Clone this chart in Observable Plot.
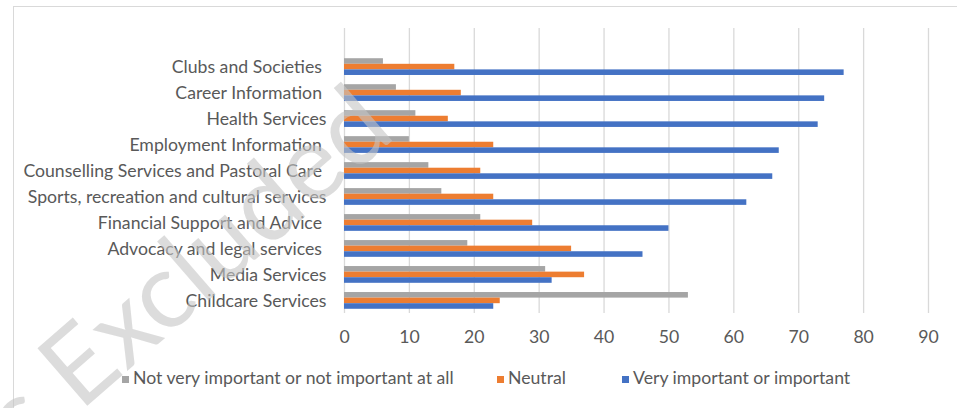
<!DOCTYPE html>
<html>
<head>
<meta charset="utf-8">
<script src="https://cdn.jsdelivr.net/npm/d3@7"></script>
<script src="https://cdn.jsdelivr.net/npm/@observablehq/plot@0.6"></script>
<style>
  html, body { margin: 0; padding: 0; background: #fff; overflow: hidden; }
  #wrap { position: relative; width: 957px; height: 408px; overflow: hidden; font-family: Lato, "Liberation Sans", sans-serif; }
  #frame { position: absolute; left: 13px; top: 6px; width: 1000px; height: 500px; border: 1.5px solid #d9d9d9; box-sizing: border-box; }
  #chart { position: absolute; left: 0; top: 0; }
  #chart svg text { white-space: pre; }
  #legend { position: absolute; left: 0; top: 369px; width: 957px; height: 20px; color: #595959; }
  .item { position: absolute; top: 0; white-space: nowrap; line-height: 18px; }
  .sw { display: inline-block; width: 7px; height: 7px; margin-right: 4px; vertical-align: 1px; }
  #wm { position: absolute; left: 0; top: 0; pointer-events: none; }
  #wm text { white-space: pre; font-family: Lato, "Liberation Sans", sans-serif; fill: #c4c4c4; fill-opacity: 0.6; }
</style>
</head>
<body>
<div id="wrap">
  <div id="frame"></div>
  <div id="chart"></div>
  <div id="legend"></div>
  <svg id="wm" width="957" height="408"></svg>
</div>
<script>
const categories = [
  "Clubs and Societies ",
  "Career Information ",
  "Health Services",
  "Employment Information ",
  "Counselling Services and Pastoral Care ",
  "Sports, recreation and cultural services",
  "Financial Support and Advice ",
  "Advocacy and legal services ",
  "Media Services",
  "Childcare Services"
];
const seriesNames = [
  "Not very important or not important at all",
  "Neutral",
  "Very important or important"
];
const notImportant = [6, 8, 11, 10, 13, 15, 21, 19, 31, 53];
const neutral = [17, 18, 16, 23, 21, 23, 29, 35, 37, 24];
const important = [77, 74, 73, 67, 66, 62, 50, 46, 32, 23];
const xTicks = [0, 10, 20, 30, 40, 50, 60, 70, 80, 90];
const colors = ["#a5a5a5", "#ed7d31", "#4472c4"];
const watermarkBefore = "Rights ";
const watermarkText = "Excluded";

// fit font size so the longest category label has the reference width
const FONT = "Lato";
const ctx = document.createElement("canvas").getContext("2d");
ctx.font = `100px ${FONT}`;
const longest = "Sports, recreation and cultural services";
const fs = Math.max(12, Math.min(18, 100 * 299 / ctx.measureText(longest).width));

const seriesValues = [notImportant, neutral, important];
const tables = seriesValues.map(vals => categories.map((c, i) => ({category: c, value: vals[i]})));

const yRange = [49, 318];
const pad = 0.355;
const step = (yRange[1] - yRange[0]) / (categories.length + pad);
const bw = step * (1 - pad);
const sub = bw / 3;

const bars = tables.map((t, k) => Plot.barX(t, {
  x: "value",
  y: "category",
  fill: colors[k],
  insetTop: k * sub,
  insetBottom: (2 - k) * sub
}));

const chart = Plot.plot({
  width: 957,
  height: 350,
  marginLeft: 344,
  marginRight: 29,
  marginTop: 28,
  marginBottom: 37,
  style: {fontFamily: `${FONT}, "Liberation Sans", sans-serif`, fontSize: fs + "px", color: "#595959", background: "transparent"},
  x: {domain: [0, 90], ticks: xTicks, tickSize: 0, tickPadding: 17, label: null},
  y: {domain: categories, range: yRange, padding: pad, round: false, tickSize: 0, tickPadding: 18, label: null},
  marks: [
    Plot.ruleX(xTicks, {stroke: "#d9d9d9", strokeWidth: 1.3}),
    ...bars
  ]
});
document.getElementById("chart").appendChild(chart);

const legend = document.getElementById("legend");
legend.style.fontSize = fs + "px";
const lefts = [122, 497, 622];
seriesNames.forEach((name, k) => {
  const it = document.createElement("div");
  it.className = "item";
  it.style.left = lefts[k] + "px";
  const sw = document.createElement("span");
  sw.className = "sw";
  sw.style.background = colors[k];
  it.appendChild(sw);
  it.appendChild(document.createTextNode(name));
  legend.appendChild(it);
});

// watermark
const wm = d3.select("#wm");
const wx = 80, wy = 412, wa = -41, wfs = 106;
wm.append("text").attr("x", wx).attr("y", wy).attr("font-size", wfs)
  .attr("transform", `rotate(${wa},${wx},${wy})`).text(watermarkText);
wm.append("text").attr("x", wx).attr("y", wy).attr("font-size", wfs).attr("text-anchor", "end")
  .attr("transform", `rotate(${wa},${wx},${wy})`).text(watermarkBefore);
</script>
</body>
</html>
